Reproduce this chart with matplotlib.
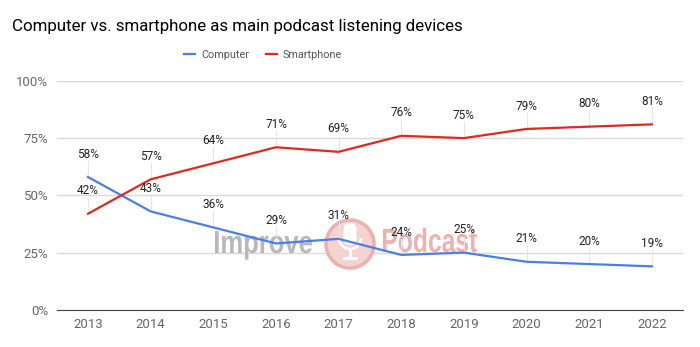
import matplotlib.pyplot as plt
from matplotlib.patches import Ellipse, FancyBboxPatch, Arc, PathPatch
from matplotlib.textpath import TextPath
from matplotlib.font_manager import FontProperties
from matplotlib.transforms import Affine2D

years = [2013, 2014, 2015, 2016, 2017, 2018, 2019, 2020, 2021, 2022]
computer = [58, 43, 36, 29, 31, 24, 25, 21, 20, 19]
smartphone = [42, 57, 64, 71, 69, 76, 75, 79, 80, 81]
y_ticks = [0, 25, 50, 75, 100]

plt.rcParams['font.family'] = ['Roboto', 'DejaVu Sans']

W, H = 700, 347
fig = plt.figure(figsize=(W / 100, H / 100), dpi=100)
ax = fig.add_axes([0.081, 0.107, 0.895, 0.66])

blue = '#4a7fe8'
red = '#dc2a22'
wm_red = '#ebb2af'

ax.plot(years, computer, color=blue, lw=1.6, label='Computer', zorder=3)
ax.plot(years, smartphone, color=red, lw=1.6, label='Smartphone', zorder=3)

# data labels with faint leader lines
for series in (computer, smartphone):
    for x, v in zip(years, series):
        ax.plot([x, x], [v, v + 7], color='#e6e6e6', lw=0.8, zorder=1)
        ax.text(x, v + 10, f'{v}%', ha='center', va='center', fontsize=8.5,
                color='#222222', zorder=4)

ax.set_xlim(2012.5, 2022.5)
ax.set_ylim(0, 100)
ax.set_yticks(y_ticks)
ax.set_yticklabels([f'{t}%' for t in y_ticks])
ax.set_xticks(years)
ax.set_xticklabels([str(y) for y in years])
ax.grid(axis='y', color='#d9d9d9', lw=1)
ax.set_axisbelow(True)
for s in ['top', 'right', 'left']:
    ax.spines[s].set_visible(False)
ax.spines['bottom'].set_color('#444444')
ax.tick_params(length=0, labelsize=9.5, colors='#666666', pad=6)

# watermark logo, laid out in figure pixels (y measured from the bottom)
px = Affine2D().scale(1 / W, 1 / H) + fig.transFigure


def logo_word(word, left, base, width, cap, color):
    tp = TextPath((0, 0), word, size=1,
                  prop=FontProperties(family='Liberation Sans', weight='bold'))
    ext = tp.get_extents()
    tr = Affine2D().translate(-ext.x0, 0).scale(width / ext.width, cap / 0.716)
    tr = tr.translate(left, H - base) + px
    ax.add_patch(PathPatch(tp, transform=tr, facecolor=color, edgecolor='none',
                           zorder=0.8, clip_on=False))


logo_word('Improve', 215, 253, 97, 23, '#b8b8b8')
logo_word('Podcast', 383, 252, 94, 24, wm_red)
cx, cy = 350, H - 244
ax.add_patch(Ellipse((cx, cy), 48, 48, transform=px, facecolor='#f4d3d1',
                     edgecolor=wm_red, lw=2.5, zorder=0.8, clip_on=False))
ax.add_patch(FancyBboxPatch((cx - 6.5, H - 245), 13, 22,
                            boxstyle='round,pad=0,rounding_size=6.5', transform=px,
                            facecolor='white', edgecolor='none', zorder=0.85,
                            clip_on=False))
ax.add_patch(Arc((cx, H - 238), 22, 22, theta1=180, theta2=360, transform=px,
                 color='white', lw=2, zorder=0.85, clip_on=False))
ax.plot([cx, cx], [H - 249, H - 258], transform=px, color='white', lw=2,
        zorder=0.85, clip_on=False)
ax.plot([cx - 6, cx + 6], [H - 258, H - 258], transform=px, color='white', lw=2,
        zorder=0.85, clip_on=False)

fig.text(12 / W, 1 - 26 / H, 'Computer vs. smartphone as main podcast listening devices',
         fontsize=12.2, color='#000000', ha='left', va='center')
fig.legend(loc='center', bbox_to_anchor=(0.376, 1 - 55 / H), ncol=2, frameon=False,
           fontsize=7.8, labelcolor='#555555', handlelength=1.0, handletextpad=0.6,
           columnspacing=1.5)

fig.savefig('out.png', dpi=100)
